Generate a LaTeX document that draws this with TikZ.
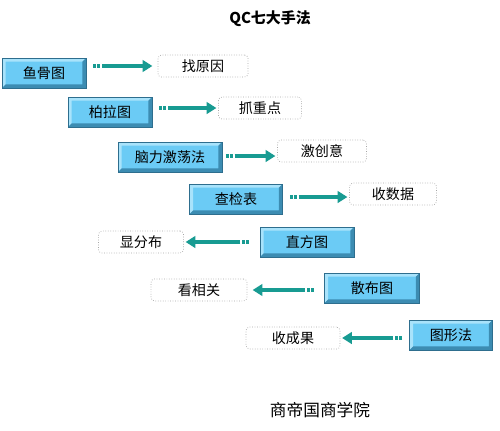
\documentclass[tikz,border=0pt]{standalone}
\usepackage{fontspec}
\setmainfont{Noto Sans CJK SC}
\usetikzlibrary{arrows.meta}
\definecolor{boxblue}{HTML}{6BCBF5}
\definecolor{boxlight}{HTML}{A9E3FB}
\definecolor{boxdark}{HTML}{3C8CB2}
\definecolor{boxedge}{HTML}{2E6E8E}
\definecolor{flowteal}{HTML}{189B92}
\newcommand{\bvw}{2pt}
\begin{document}
\begin{tikzpicture}[x=0.02cm,y=-0.02cm,
	tool/.style={draw=boxedge, line width=0.4pt, fill=boxblue, minimum height=0.6cm,
		font=\fontsize{8}{10}\selectfont, inner sep=0pt,
		path picture={
			\fill[boxlight] (path picture bounding box.north west) -- (path picture bounding box.north east)
				-- ([xshift=-\bvw,yshift=-\bvw]path picture bounding box.north east)
				-- ([xshift=\bvw,yshift=-\bvw]path picture bounding box.north west)
				-- ([xshift=\bvw,yshift=\bvw]path picture bounding box.south west)
				-- (path picture bounding box.south west) -- cycle;
			\fill[boxdark] (path picture bounding box.south west) -- (path picture bounding box.south east)
				-- (path picture bounding box.north east)
				-- ([xshift=-\bvw,yshift=-\bvw]path picture bounding box.north east)
				-- ([xshift=-\bvw,yshift=\bvw]path picture bounding box.south east)
				-- ([xshift=\bvw,yshift=\bvw]path picture bounding box.south west) -- cycle;
		}},
	goal/.style={draw=black!35, densely dotted, rounded corners=2pt, fill=white, minimum height=0.44cm,
		font=\fontsize{8}{10}\selectfont, inner sep=0pt},
	flow/.style={draw=flowteal, line width=2.2pt, dash pattern=on 1.6pt off 0.6pt on 1.6pt off 1.2pt on 200pt,
		-{Triangle[length=5.5pt,width=6.5pt]}}
	]
	\useasboundingbox (0,0) rectangle (500,430);
	% title
	\node[font=\fontsize{8.5}{10}\selectfont\bfseries] (title) at (270,19) {QC七大手法};
	% tools
	\node[tool, minimum width=1.68cm] (b1) at (44,73) {鱼骨图};
	\node[tool, minimum width=1.68cm] (b2) at (110,112) {柏拉图};
	\node[tool, minimum width=2.08cm] (b3) at (170,157) {脑力激荡法};
	\node[tool, minimum width=1.86cm] (b4) at (236,199) {查检表};
	\node[tool, minimum width=1.88cm] (b5) at (307,242) {直方图};
	\node[tool, minimum width=1.90cm] (b6) at (372,288) {散布图};
	\node[tool, minimum width=1.66cm] (b7) at (451,335) {图形法};
	% goals
	\node[goal, minimum width=1.80cm] (w1) at (203,66) {找原因};
	\node[goal, minimum width=1.66cm] (w2) at (260,108) {抓重点};
	\node[goal, minimum width=1.78cm] (w3) at (322,151) {激创意};
	\node[goal, minimum width=1.74cm] (w4) at (393,194) {收数据};
	\node[goal, minimum width=1.70cm] (w5) at (141,242) {显分布};
	\node[goal, minimum width=1.92cm] (w6) at (199,290) {看相关};
	\node[goal, minimum width=1.88cm] (w7) at (293,338) {收成果};
	% arrows
	\draw[flow] ([xshift=4pt]b1.east |- 0,66) -- ([xshift=-3pt]w1.west);
	\draw[flow] ([xshift=4pt]b2.east |- 0,108) -- ([xshift=-1pt]w2.west);
	\draw[flow] ([xshift=2pt]b3.east |- 0,156) -- ([xshift=-1pt]w3.west |- 0,156);
	\draw[flow] ([xshift=4pt]b4.east |- 0,197) -- ([xshift=-1pt]w4.west |- 0,197);
	\draw[flow] ([xshift=-6pt]b5.west |- 0,242) -- ([xshift=1pt]w5.east);
	\draw[flow] ([xshift=-6pt]b6.west |- 0,290) -- ([xshift=3pt]w6.east);
	\draw[flow] ([xshift=-4pt]b7.west |- 0,338) -- ([xshift=1pt]w7.east);
	% footer
	\node[font=\fontsize{9.5}{11}\selectfont] (footer) at (320,410) {商帝国商学院};
\end{tikzpicture}
\end{document}
